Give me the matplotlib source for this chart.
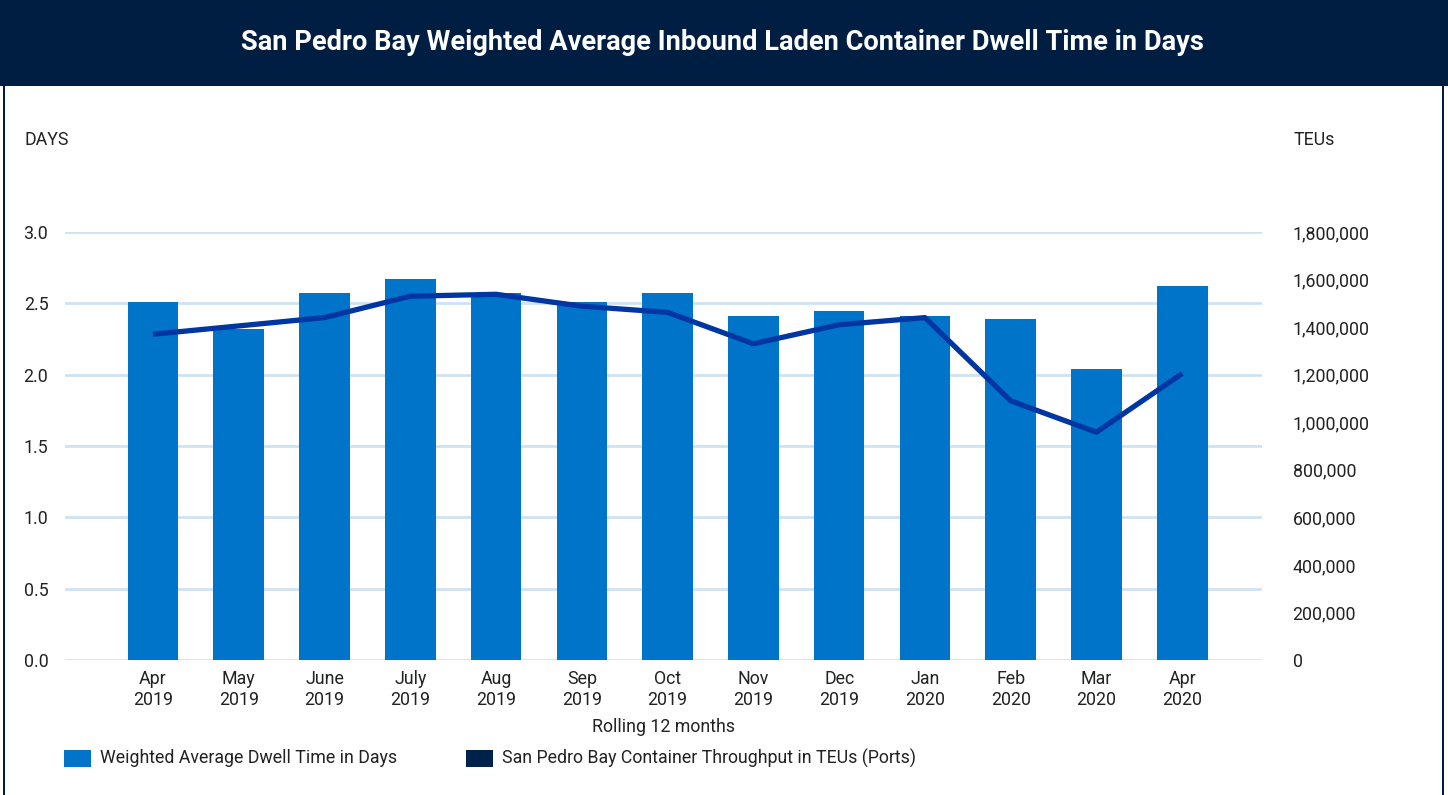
import numpy as np
import matplotlib.pyplot as plt
from matplotlib.patches import Rectangle
from matplotlib.ticker import FuncFormatter

plt.rcParams['font.family'] = ['Roboto', 'DejaVu Sans']

months = ['Apr\n2019', 'May\n2019', 'June\n2019', 'July\n2019', 'Aug\n2019', 'Sep\n2019',
          'Oct\n2019', 'Nov\n2019', 'Dec\n2019', 'Jan\n2020', 'Feb\n2020', 'Mar\n2020', 'Apr\n2020']
dwell_days = [2.51, 2.32, 2.57, 2.67, 2.57, 2.51, 2.57, 2.41, 2.445, 2.41, 2.39, 2.04, 2.62]
teus = [1370000, 1405000, 1440000, 1530000, 1538000, 1488000, 1462000,
        1330000, 1410000, 1440000, 1090000, 958000, 1205000]

W, H = 1448, 795
fig = plt.figure(figsize=(W / 100, H / 100), dpi=100)
fig.patch.set_facecolor('white')

navy = '#001E42'
bar_color = '#0074C8'
line_color = '#0036A2'
grid_color = '#CFE2F3'
text_color = '#222222'
fs = 12.8

# header band and frame
fig.patches.append(Rectangle((0, 1 - 86 / H), 1, 86 / H, transform=fig.transFigure,
                             facecolor=navy, edgecolor='none', zorder=0))
fig.patches.append(Rectangle((2.5 / W, 0), 2 / W, 1, transform=fig.transFigure,
                             facecolor=navy, edgecolor='none', zorder=0))
fig.patches.append(Rectangle((1441.5 / W, 0), 2 / W, 1, transform=fig.transFigure,
                             facecolor=navy, edgecolor='none', zorder=0))
fig.text(722 / W, 1 - 42 / H, 'San Pedro Bay Weighted Average Inbound Laden Container Dwell Time in Days',
         color='white', fontsize=19.6, fontweight='bold', ha='center', va='center')

ax = fig.add_axes([65 / W, 1 - 660 / H, (1262 - 65) / W, (660 - 232) / H])
x = np.arange(len(months))
ax.bar(x, dwell_days, width=0.59, color=bar_color, zorder=2)
ax.set_xlim(-1.026, 12.93)
ax.set_ylim(0, 3)
ax.set_yticks(np.arange(0, 3.01, 0.5))
ax.yaxis.set_major_formatter(FuncFormatter(lambda v, p: '%.1f' % v))
ax.set_xticks(x)
ax.set_xticklabels(months)
ax.yaxis.grid(True, color=grid_color, linewidth=2)
ax.set_axisbelow(True)
for s in ax.spines.values():
    s.set_visible(False)
ax.tick_params(axis='y', length=0, pad=12, labelsize=fs, labelcolor=text_color)
ax.tick_params(axis='x', length=0, pad=7, labelsize=fs, labelcolor=text_color)
for lbl in ax.get_xticklabels():
    lbl.set_linespacing(1.2)
ax.set_xlabel('Rolling 12 months', fontsize=fs, color=text_color, labelpad=7)

ax2 = ax.twinx()
ax2.plot(x, teus, color=line_color, linewidth=3.8, solid_capstyle='butt', zorder=3)
ax2.set_ylim(0, 1800000)
ax2.set_yticks(np.arange(0, 1800001, 200000))
ax2.yaxis.set_major_formatter(FuncFormatter(lambda v, p: '{:,.0f}'.format(v)))
for s in ax2.spines.values():
    s.set_visible(False)
ax2.tick_params(axis='y', length=0, pad=22, labelsize=fs, labelcolor=text_color)

fig.text(25 / W, 1 - 140 / H, 'DAYS', fontsize=fs, color=text_color, ha='left', va='center')
fig.text(1294 / W, 1 - 140 / H, 'TEUs', fontsize=fs, color=text_color, ha='left', va='center')

# legend
legend_items = [('Weighted Average Dwell Time in Days', bar_color, 64),
                ('San Pedro Bay Container Throughput in TEUs (Ports)', '#00224A', 466)]
for label, col, x0 in legend_items:
    fig.patches.append(Rectangle((x0 / W, 1 - 767 / H), 27 / W, 17 / H, transform=fig.transFigure,
                                 facecolor=col, edgecolor='none'))
    fig.text((x0 + 36) / W, 1 - 758 / H, label, fontsize=fs, color=text_color, ha='left', va='center')

fig.savefig('out.png', dpi=100)
